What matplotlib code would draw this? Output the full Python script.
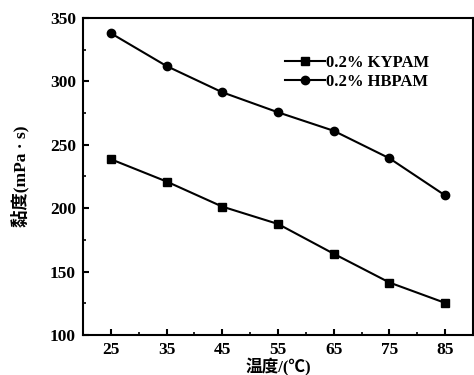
import matplotlib.pyplot as plt
from matplotlib.ticker import MultipleLocator

# データ
temps = [25, 35, 45, 55, 65, 75, 85]
kypam = [238.6, 221.0, 201.2, 187.5, 164.0, 141.3, 125.2]
hbpam = [338.0, 312.1, 291.4, 275.6, 261.0, 239.3, 210.0]
labels = ['0.2% KYPAM', '0.2% HBPAM']

X_LABEL = '温度/(℃)'
Y_LABEL = '黏度(mPa · s)'

plt.rcParams['font.family'] = ['Liberation Serif', 'Noto Sans CJK SC']
plt.rcParams['font.weight'] = 'bold'

fig = plt.figure(figsize=(4.74, 3.75), dpi=100)
ax = fig.add_axes([0.175, 0.107, 0.823, 0.845])

ax.plot(temps, kypam, color='black', marker='s', markersize=5.5, linewidth=1.5, label=labels[0])
ax.plot(temps, hbpam, color='black', marker='o', markersize=6, linewidth=1.5, label=labels[1])

ax.set_xlim(20, 90)
ax.set_ylim(100, 350)
ax.set_xticks(temps)
ax.xaxis.set_minor_locator(MultipleLocator(5))
ax.yaxis.set_major_locator(MultipleLocator(50))
ax.yaxis.set_minor_locator(MultipleLocator(25))

ax.tick_params(axis='both', which='major', direction='in', length=4, width=1.5,
               labelsize=12.5, pad=5)
ax.tick_params(axis='both', which='minor', direction='in', length=2, width=1.2)
for s in ax.spines.values():
    s.set_linewidth(1.5)

ax.set_xlabel(X_LABEL, fontsize=12, fontweight='bold', labelpad=0)
ax.set_ylabel(Y_LABEL, fontsize=12.5, fontweight='bold', labelpad=15)

ax.legend(loc='upper right', bbox_to_anchor=(0.905, 0.905), frameon=False, fontsize=12,
          handlelength=2.4, handletextpad=0.05, labelspacing=0.2, borderaxespad=0)

plt.savefig('out.png', dpi=100)
